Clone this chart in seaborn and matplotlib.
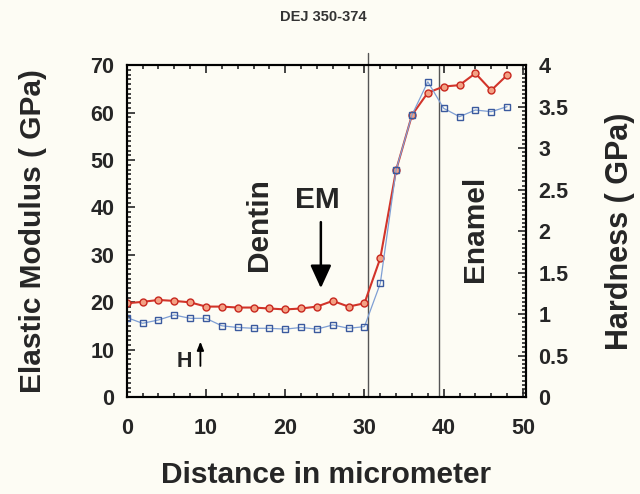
import matplotlib
matplotlib.use('Agg')
import matplotlib.pyplot as plt
from matplotlib.ticker import MultipleLocator
import numpy as np
import pandas as pd
import seaborn as sns

# data
distance = [0, 2, 4, 6, 8, 10, 12, 14, 16, 18, 20, 22, 24, 26, 28, 30,
            32, 34, 36, 38, 40, 42, 44, 46, 48]
modulus = [19.8, 20.1, 20.5, 20.3, 20.0, 19.1, 19.1, 18.9, 18.9, 18.7, 18.5, 18.7,
           19.1, 20.3, 19.1, 19.8,
           29.3, 47.9, 59.5, 64.2, 65.5, 65.8, 68.3, 64.7, 67.9]
hardness = [0.96, 0.89, 0.93, 0.99, 0.95, 0.95, 0.86, 0.84, 0.83, 0.83, 0.82, 0.84,
            0.82, 0.87, 0.83, 0.85,
            1.37, 2.74, 3.40, 3.80, 3.48, 3.38, 3.46, 3.44, 3.50]
boundaries = [30.4, 39.4]
hardness_ticks = ['0', '0.5', '1', '1.5', '2', '2.5', '3', '3.5', '4']

df = pd.DataFrame({'distance': distance, 'modulus': modulus, 'hardness': hardness})

sns.set_style('ticks')
plt.rcParams['font.family'] = ['Liberation Sans', 'DejaVu Sans']
plt.rcParams['font.weight'] = 'bold'

bg = '#fdfcf4'
fig = plt.figure(figsize=(6.4, 4.94), dpi=100, facecolor=bg)
ax = fig.add_axes([0.198, 0.196, 0.624, 0.672], facecolor=bg)
ax2 = ax.twinx()

sns.lineplot(data=df, x='distance', y='modulus', ax=ax, color='#d2342a', lw=1.5,
             marker='o', markersize=5, markerfacecolor='#f3a184',
             markeredgecolor='#c8281f', markeredgewidth=1.0)
sns.lineplot(data=df, x='distance', y='hardness', ax=ax2, color='#7f9fd4', lw=0.9,
             marker='s', markersize=5, markerfacecolor='none',
             markeredgecolor='#3b5a9e', markeredgewidth=1.0)

# the first boundary line runs a little above the frame
ax.plot([boundaries[0]] * 2, [0, 72.5], color='#555555', lw=1.0, zorder=0, clip_on=False)
ax.axvline(boundaries[1], color='#555555', lw=1.0, zorder=0)

ax.set_xlim(0, 50.4)
ax.set_ylim(0, 70)
ax2.set_ylim(0, 4)

ax.xaxis.set_major_locator(MultipleLocator(10))
ax.xaxis.set_minor_locator(MultipleLocator(2))
ax.yaxis.set_major_locator(MultipleLocator(10))
ax.yaxis.set_minor_locator(MultipleLocator(1))
ax2.set_yticks(np.arange(0, 4.01, 0.5))
ax2.set_yticklabels(hardness_ticks)
ax2.yaxis.set_minor_locator(MultipleLocator(0.05))

ax.tick_params(which='both', direction='in', top=True, labelsize=15.5, width=1.2)
ax.tick_params(which='major', length=6)
ax.tick_params(which='minor', length=3)
ax.tick_params(axis='x', which='major', pad=15)
ax.tick_params(axis='y', which='major', pad=9)
ax2.tick_params(which='both', direction='in', labelsize=15.5, width=1.2)
ax2.tick_params(which='major', length=6, pad=9)
ax2.tick_params(which='minor', length=3)

for a in (ax, ax2):
    for s in a.spines.values():
        s.set_linewidth(1.5)
        s.set_color('black')

ax.set_xlabel('Distance in micrometer', fontsize=21.5, fontweight='bold', labelpad=16)
ax.set_ylabel('Elastic Modulus ( GPa)', fontsize=21.5, fontweight='bold', labelpad=31)
ax2.set_ylabel('Hardness ( GPa)', fontsize=22, fontweight='bold', labelpad=26)

fig.text(0.505, 0.966, 'DEJ 350-374', ha='center', va='center', fontsize=10.5,
         fontweight='bold', color='#333333')

ax.text(16.7, 36.3, 'Dentin', rotation=90, ha='center', va='center', fontsize=21.5,
        fontweight='bold')
ax.text(44.0, 35.4, 'Enamel', rotation=90, ha='center', va='center', fontsize=21.5,
        fontweight='bold')
ax.text(24.0, 41.6, 'EM', ha='center', va='center', fontsize=21.5, fontweight='bold')
ax.annotate('', xy=(24.5, 22.4), xytext=(24.5, 37.5),
            arrowprops=dict(arrowstyle='-|>,head_length=0.7,head_width=0.32',
                            mutation_scale=20, color='black', lw=1.8))
ax.text(7.3, 7.6, 'H', ha='center', va='center', fontsize=15.5, fontweight='bold')
ax.annotate('', xy=(9.3, 12.3), xytext=(9.3, 6.0),
            arrowprops=dict(arrowstyle='-|>,head_length=0.5,head_width=0.2',
                            color='black', lw=1.3))

fig.savefig('out.png', dpi=100, facecolor=bg)
